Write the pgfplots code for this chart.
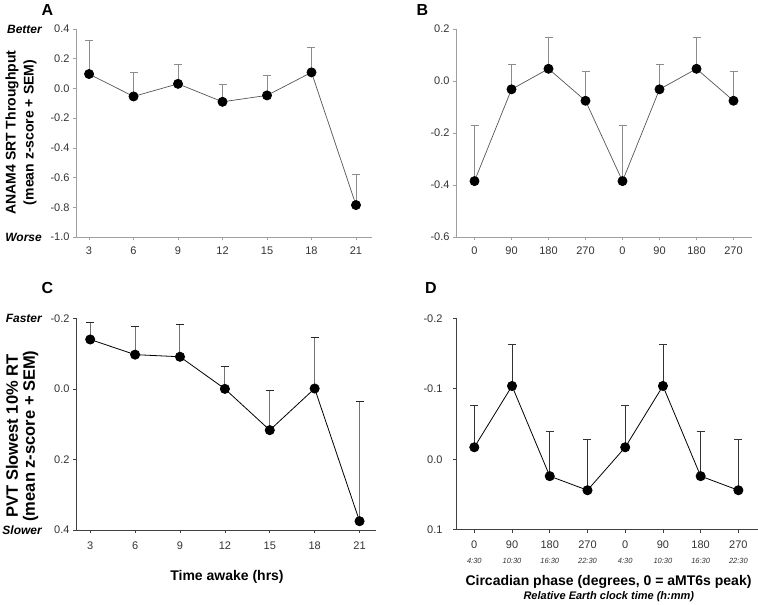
\documentclass[border=0pt]{standalone}
\usepackage{pgfplots}
\pgfplotsset{compat=1.18}
\usepackage{fontspec}
\setmainfont{Liberation Sans}
\definecolor{axgray}{HTML}{A0A0A0}
\definecolor{lngray}{HTML}{555555}
\definecolor{ergray}{HTML}{8C8C8C}
\definecolor{axdark}{HTML}{404040}
\newcommand{\clk}[1]{{\fontsize{7.5}{9}\selectfont\itshape #1}}
\pgfplotsset{
  panel/.style={
    scale only axis,
    axis x line=bottom, axis y line=left,
    axis line style={-, line width=0.8pt},
    tick align=outside, major tick length=3pt,
    tick style={line width=0.7pt},
    tick label style={font=\fontsize{11}{13}\selectfont, text=black!80},
    /pgf/number format/assume math mode=true,
    yticklabel style={/pgf/number format/fixed, /pgf/number format/fixed zerofill, /pgf/number format/precision=1},
    clip=false,
  },
  grayp/.style={axis line style={draw=axgray}, tick style={draw=axgray}},
  darkp/.style={axis line style={draw=axdark}, tick style={draw=axdark}},
}
\begin{document}
\begin{tikzpicture}[x=1pt,y=1pt]
\useasboundingbox (0pt,0pt) rectangle (758pt,-605pt);

% Panel A
\begin{axis}[panel, grayp, at={(76pt,-29pt)}, anchor=north west, width=296pt, height=208pt,
  xmin=2.12, xmax=22.08, ymin=-1, ymax=0.4,
  xticklabel style={yshift=-3pt},
  xtick={3,6,9,12,15,18,21}, ytick={-1,-0.8,-0.6,-0.4,-0.2,0,0.2,0.4}]
\addplot[color=lngray, line width=0.7pt, mark=*, mark size=4.6pt,
  mark options={fill=black, draw=black},
  error bars/.cd, y dir=plus, y explicit,
  error bar style={color=ergray, line width=0.7pt},
  error mark=-, error mark options={rotate=90, mark size=4pt, draw=ergray, line width=0.7pt}]
table[x=x, y=y, y error=e] {
x y e
3 0.097 0.226
6 -0.054 0.164
9 0.031 0.129
12 -0.090 0.117
15 -0.047 0.132
18 0.108 0.168
21 -0.785 0.205
};
\end{axis}

% Panel B
\begin{axis}[panel, grayp, at={(456pt,-29pt)}, anchor=north west, width=296pt, height=208pt,
  xmin=-0.5, xmax=7.5, ymin=-0.6, ymax=0.2,
  xticklabel style={yshift=-3pt},
  xtick={0,1,2,3,4,5,6,7}, xticklabels={0,90,180,270,0,90,180,270},
  ytick={-0.6,-0.4,-0.2,0,0.2}]
\addplot[color=lngray, line width=0.7pt, mark=*, mark size=4.6pt,
  mark options={fill=black, draw=black},
  error bars/.cd, y dir=plus, y explicit,
  error bar style={color=ergray, line width=0.7pt},
  error mark=-, error mark options={rotate=90, mark size=4pt, draw=ergray, line width=0.7pt}]
table[x=x, y=y, y error=e] {
x y e
0 -0.385 0.216
1 -0.032 0.097
2 0.047 0.121
3 -0.076 0.113
4 -0.385 0.216
5 -0.032 0.097
6 0.047 0.121
7 -0.076 0.113
};
\end{axis}

% Panel C
\begin{axis}[panel, darkp, at={(76pt,-318.3pt)}, anchor=north west, width=300pt, height=211.7pt,
  y dir=reverse,
  xmin=2.05, xmax=22.1, ymin=-0.2, ymax=0.4,
  xticklabel style={yshift=-5pt},
  xtick={3,6,9,12,15,18,21}, ytick={-0.2,0,0.2,0.4}]
\addplot[color=black, line width=0.8pt, mark=*, mark size=4.6pt,
  mark options={fill=black, draw=black},
  error bars/.cd, y dir=minus, y explicit,
  error bar style={color=black!55, line width=1pt},
  error mark=-, error mark options={rotate=90, mark size=4pt, draw=black!85, line width=0.8pt}]
table[x=x, y=y, y error=e] {
x y e
3 -0.140 0.049
6 -0.097 0.079
9 -0.091 0.093
12 0.000 0.065
15 0.117 0.112
18 -0.001 0.146
21 0.375 0.339
};
\end{axis}

% Panel D
\begin{axis}[panel, darkp, at={(456pt,-318.3pt)}, anchor=north west, width=302pt, height=211.4pt,
  y dir=reverse,
  xmin=-0.485, xmax=7.52, ymin=-0.2, ymax=0.1,
  xtick={0,1,2,3,4,5,6,7},
  xticklabels={{0\\[2pt]\clk{4:30}},{90\\[2pt]\clk{10:30}},{180\\[2pt]\clk{16:30}},{270\\[2pt]\clk{22:30}},{0\\[2pt]\clk{4:30}},{90\\[2pt]\clk{10:30}},{180\\[2pt]\clk{16:30}},{270\\[2pt]\clk{22:30}}},
  xticklabel style={align=center, yshift=-5pt},
  yticklabel style={xshift=-7pt},
  ytick={-0.2,-0.1,0,0.1}]
\addplot[color=black, line width=0.8pt, mark=*, mark size=4.6pt,
  mark options={fill=black, draw=black},
  error bars/.cd, y dir=minus, y explicit,
  error bar style={color=black!80, line width=0.8pt},
  error mark=-, error mark options={rotate=90, mark size=4pt, draw=black!80, line width=0.8pt}]
table[x=x, y=y, y error=e] {
x y e
0 -0.017 0.059
1 -0.104 0.059
2 0.024 0.064
3 0.044 0.072
4 -0.017 0.059
5 -0.104 0.059
6 0.024 0.064
7 0.044 0.072
};
\end{axis}

% Panel letters
\node[font=\bfseries\fontsize{16}{18}\selectfont] at (47.5pt,-9.5pt) {A};
\node[font=\bfseries\fontsize{16}{18}\selectfont] at (422.5pt,-9.5pt) {B};
\node[font=\bfseries\fontsize{16}{18}\selectfont] at (47.5pt,-288.3pt) {C};
\node[font=\bfseries\fontsize{16}{18}\selectfont] at (431pt,-288.3pt) {D};

% Better / Worse / Faster / Slower
\node[font=\bfseries\itshape\fontsize{12}{14}\selectfont, anchor=east, inner sep=0pt] at (42pt,-29pt) {Better};
\node[font=\bfseries\itshape\fontsize{12}{14}\selectfont, anchor=east, inner sep=0pt] at (42pt,-237pt) {Worse};
\node[font=\bfseries\itshape\fontsize{12}{14}\selectfont, anchor=east, inner sep=0pt] at (42pt,-318.3pt) {Faster};
\node[font=\bfseries\itshape\fontsize{12}{14}\selectfont, anchor=east, inner sep=0pt] at (42pt,-530pt) {Slower};

% Y labels
\node[rotate=90, align=center, font=\bfseries\fontsize{14}{18}\selectfont] at (21pt,-132.5pt) {ANAM4 SRT Throughput\\(mean z-score + SEM)};
\node[rotate=90, align=center, font=\bfseries\fontsize{16.5}{17}\selectfont] at (22pt,-436pt) {PVT Slowest 10\% RT\\(mean z-score + SEM)};

% X labels
\node[font=\bfseries\fontsize{14}{16}\selectfont] at (227pt,-576.7pt) {Time awake (hrs)};
\node[font=\bfseries\fontsize{14}{16}\selectfont] at (608.5pt,-581.7pt) {Circadian phase (degrees, 0 = aMT6s peak)};
\node[font=\bfseries\itshape\fontsize{11}{13}\selectfont] at (608.8pt,-596.7pt) {Relative Earth clock time (h:mm)};
\end{tikzpicture}
\end{document}
